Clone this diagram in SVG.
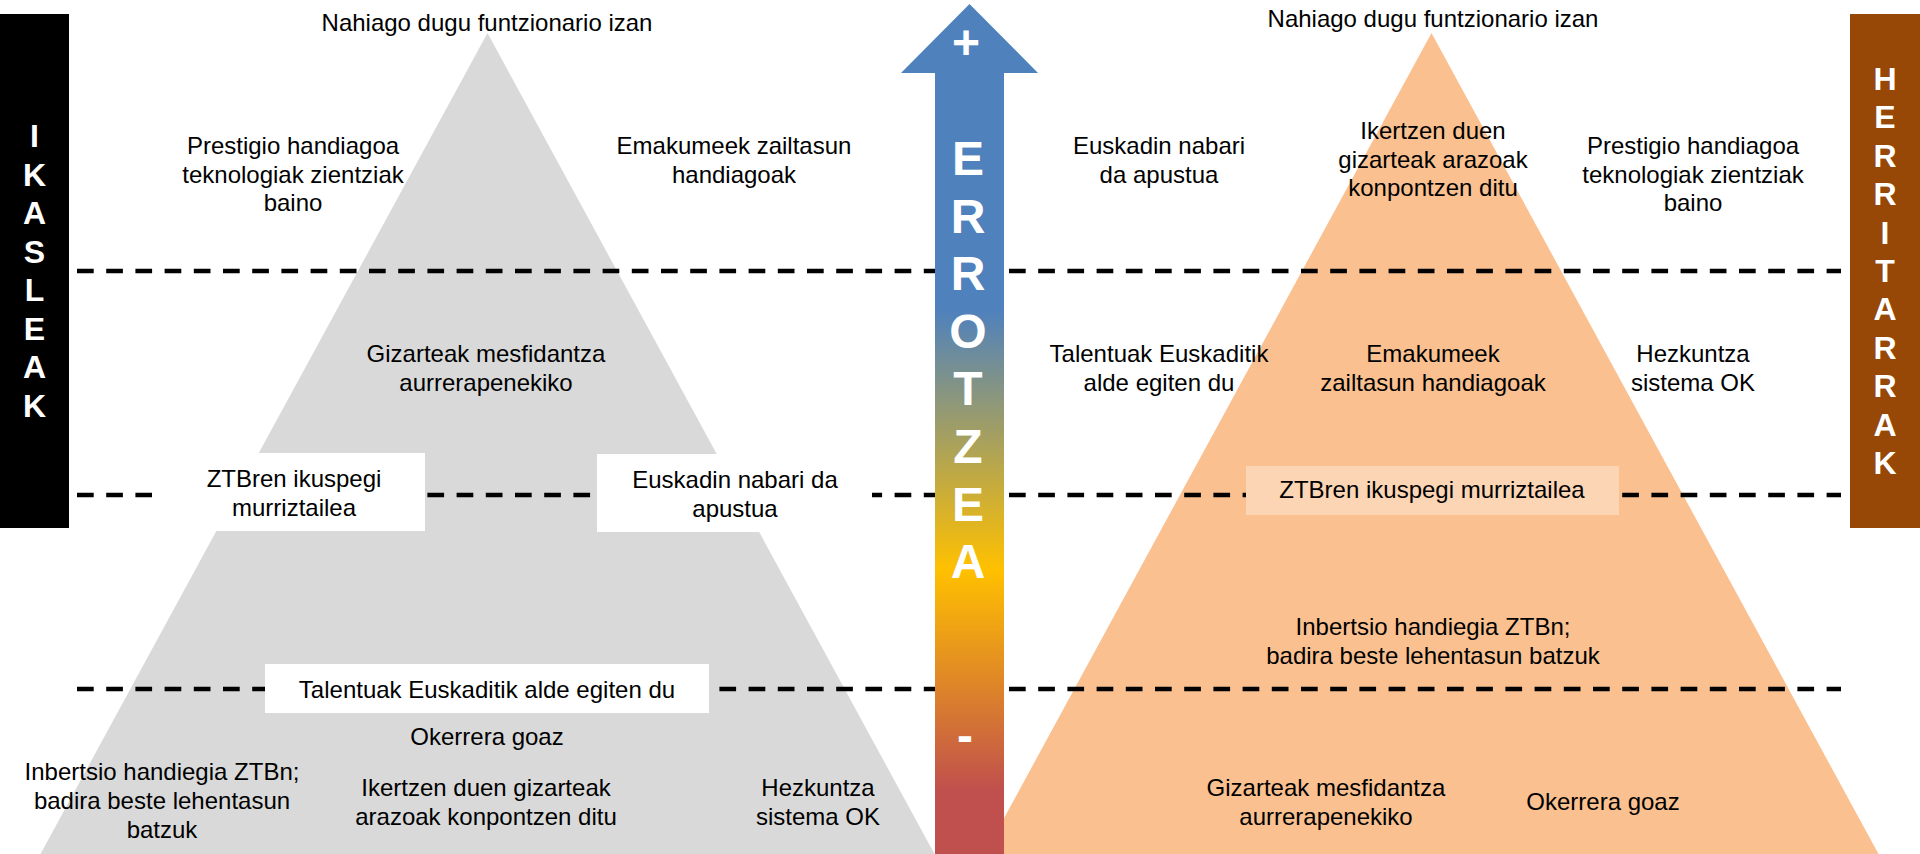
<svg xmlns="http://www.w3.org/2000/svg" width="1920" height="854" viewBox="0 0 1920 854">
<defs>
<linearGradient id="arrowGrad" gradientUnits="userSpaceOnUse" x1="0" y1="0" x2="0" y2="854">
<stop offset="0" stop-color="#4F81BD"/>
<stop offset="0.363" stop-color="#4F81BD"/>
<stop offset="0.667" stop-color="#FFC000"/>
<stop offset="0.925" stop-color="#C0504D"/>
<stop offset="1" stop-color="#C0504D"/>
</linearGradient>
<style>
.t{font-family:"Liberation Sans",Arial,sans-serif;font-size:24px;fill:#000;text-anchor:middle}
.side{font-family:"Liberation Sans",Arial,sans-serif;font-size:32px;font-weight:bold;fill:#fff;text-anchor:middle}
.arr{font-family:"Liberation Sans",Arial,sans-serif;font-size:48px;font-weight:bold;fill:#fff;text-anchor:middle}
.dash{stroke:#000;stroke-width:4.5;stroke-dasharray:16.7 12.5;fill:none}
</style>
</defs>
<rect width="1920" height="854" fill="#fff"/>

<g id="pyramid-ikasleak">
<polygon points="487.5,33 40.5,854 934.5,854" fill="#D9D9D9"/>
</g>
<g id="pyramid-herritarrak">
<polygon points="1431.5,33 984.5,854 1878.5,854" fill="#FAC090"/>
</g>

<g id="connectors">
<line class="dash" x1="77" y1="271" x2="935" y2="271"/>
<line class="dash" x1="1009" y1="271" x2="1841" y2="271"/>
<line class="dash" x1="77" y1="495" x2="935" y2="495"/>
<line class="dash" x1="1009" y1="495" x2="1841" y2="495"/>
<line class="dash" x1="77" y1="689" x2="935" y2="689"/>
<line class="dash" x1="1009" y1="689" x2="1841" y2="689"/>
</g>

<g id="left-title"><text class="t" x="487" y="31">Nahiago dugu funtzionario izan</text></g>
<g id="left-prestigio"><text class="t" x="293" y="154"><tspan x="293">Prestigio handiagoa</tspan><tspan x="293" dy="28.6">teknologiak zientziak</tspan><tspan x="293" dy="28.6">baino</tspan></text></g>
<g id="left-emakumeek"><text class="t" x="734" y="154"><tspan x="734">Emakumeek zailtasun</tspan><tspan x="734" dy="28.6">handiagoak</tspan></text></g>
<g id="left-gizarteak"><text class="t" x="486" y="362"><tspan x="486">Gizarteak mesfidantza</tspan><tspan x="486" dy="28.6">aurrerapenekiko</tspan></text></g>
<g id="left-ztbren">
<rect x="152" y="453" width="273" height="78" fill="#fff"/>
<text class="t" x="294" y="487"><tspan x="294">ZTBren ikuspegi</tspan><tspan x="294" dy="28.6">murriztailea</tspan></text>
</g>
<g id="left-euskadin">
<rect x="597" y="454" width="275" height="78" fill="#fff"/>
<text class="t" x="735" y="488"><tspan x="735">Euskadin nabari da</tspan><tspan x="735" dy="28.6">apustua</tspan></text>
</g>
<g id="left-talentuak">
<rect x="265" y="664" width="444" height="49" fill="#fff"/>
<text class="t" x="487" y="698">Talentuak Euskaditik alde egiten du</text>
</g>
<g id="left-okerrera"><text class="t" x="487" y="745">Okerrera goaz</text></g>
<g id="left-inbertsio"><text class="t" x="162" y="780"><tspan x="162">Inbertsio handiegia ZTBn;</tspan><tspan x="162" dy="28.8">badira beste lehentasun</tspan><tspan x="162" dy="28.8">batzuk</tspan></text></g>
<g id="left-ikertzen"><text class="t" x="486" y="796"><tspan x="486">Ikertzen duen gizarteak</tspan><tspan x="486" dy="28.8">arazoak konpontzen ditu</tspan></text></g>
<g id="left-hezkuntza"><text class="t" x="818" y="796"><tspan x="818">Hezkuntza</tspan><tspan x="818" dy="28.8">sistema OK</tspan></text></g>

<g id="right-title"><text class="t" x="1433" y="27">Nahiago dugu funtzionario izan</text></g>
<g id="right-euskadin"><text class="t" x="1159" y="154"><tspan x="1159">Euskadin nabari</tspan><tspan x="1159" dy="28.6">da apustua</tspan></text></g>
<g id="right-ikertzen"><text class="t" x="1433" y="139"><tspan x="1433">Ikertzen duen</tspan><tspan x="1433" dy="28.6">gizarteak arazoak</tspan><tspan x="1433" dy="28.6">konpontzen ditu</tspan></text></g>
<g id="right-prestigio"><text class="t" x="1693" y="154"><tspan x="1693">Prestigio handiagoa</tspan><tspan x="1693" dy="28.6">teknologiak zientziak</tspan><tspan x="1693" dy="28.6">baino</tspan></text></g>
<g id="right-talentuak"><text class="t" x="1159" y="362"><tspan x="1159">Talentuak Euskaditik</tspan><tspan x="1159" dy="28.6">alde egiten du</tspan></text></g>
<g id="right-emakumeek"><text class="t" x="1433" y="362"><tspan x="1433">Emakumeek</tspan><tspan x="1433" dy="28.6">zailtasun handiagoak</tspan></text></g>
<g id="right-hezkuntza"><text class="t" x="1693" y="362"><tspan x="1693">Hezkuntza</tspan><tspan x="1693" dy="28.6">sistema OK</tspan></text></g>
<g id="right-ztbren">
<rect x="1246" y="466" width="373" height="49" fill="#FCD5B4"/>
<text class="t" x="1432" y="498">ZTBren ikuspegi murriztailea</text>
</g>
<g id="right-inbertsio"><text class="t" x="1433" y="635"><tspan x="1433">Inbertsio handiegia ZTBn;</tspan><tspan x="1433" dy="28.8">badira beste lehentasun batzuk</tspan></text></g>
<g id="right-gizarteak"><text class="t" x="1326" y="796"><tspan x="1326">Gizarteak mesfidantza</tspan><tspan x="1326" dy="28.8">aurrerapenekiko</tspan></text></g>
<g id="right-okerrera"><text class="t" x="1603" y="810">Okerrera goaz</text></g>

<g id="arrow-errotzea">
<path d="M969.5,4 L1038,73 L1004,73 L1004,854 L935,854 L935,73 L901,73 Z" fill="url(#arrowGrad)"/>
<text class="arr" x="966" y="59">+</text>
<text class="arr" x="968" y="175">E</text>
<text class="arr" x="968" y="232.6">R</text>
<text class="arr" x="968" y="290.2">R</text>
<text class="arr" x="968" y="347.8">O</text>
<text class="arr" x="968" y="405.4">T</text>
<text class="arr" x="968" y="463">Z</text>
<text class="arr" x="968" y="520.6">E</text>
<text class="arr" x="968" y="578.2">A</text>
<text class="arr" x="965" y="752">-</text>
</g>

<g id="bar-ikasleak">
<rect x="0" y="14" width="69" height="514" fill="#000"/>
<text class="side" x="34.5" y="147">I</text>
<text class="side" x="34.5" y="185.5">K</text>
<text class="side" x="34.5" y="224">A</text>
<text class="side" x="34.5" y="262.5">S</text>
<text class="side" x="34.5" y="301">L</text>
<text class="side" x="34.5" y="339.5">E</text>
<text class="side" x="34.5" y="378">A</text>
<text class="side" x="34.5" y="416.5">K</text>
</g>

<g id="bar-herritarrak">
<rect x="1850" y="14" width="70" height="514" fill="#974706"/>
<text class="side" x="1885" y="90">H</text>
<text class="side" x="1885" y="128.4">E</text>
<text class="side" x="1885" y="166.8">R</text>
<text class="side" x="1885" y="205.2">R</text>
<text class="side" x="1885" y="243.6">I</text>
<text class="side" x="1885" y="282">T</text>
<text class="side" x="1885" y="320.4">A</text>
<text class="side" x="1885" y="358.8">R</text>
<text class="side" x="1885" y="397.2">R</text>
<text class="side" x="1885" y="435.6">A</text>
<text class="side" x="1885" y="474">K</text>
</g>
</svg>
